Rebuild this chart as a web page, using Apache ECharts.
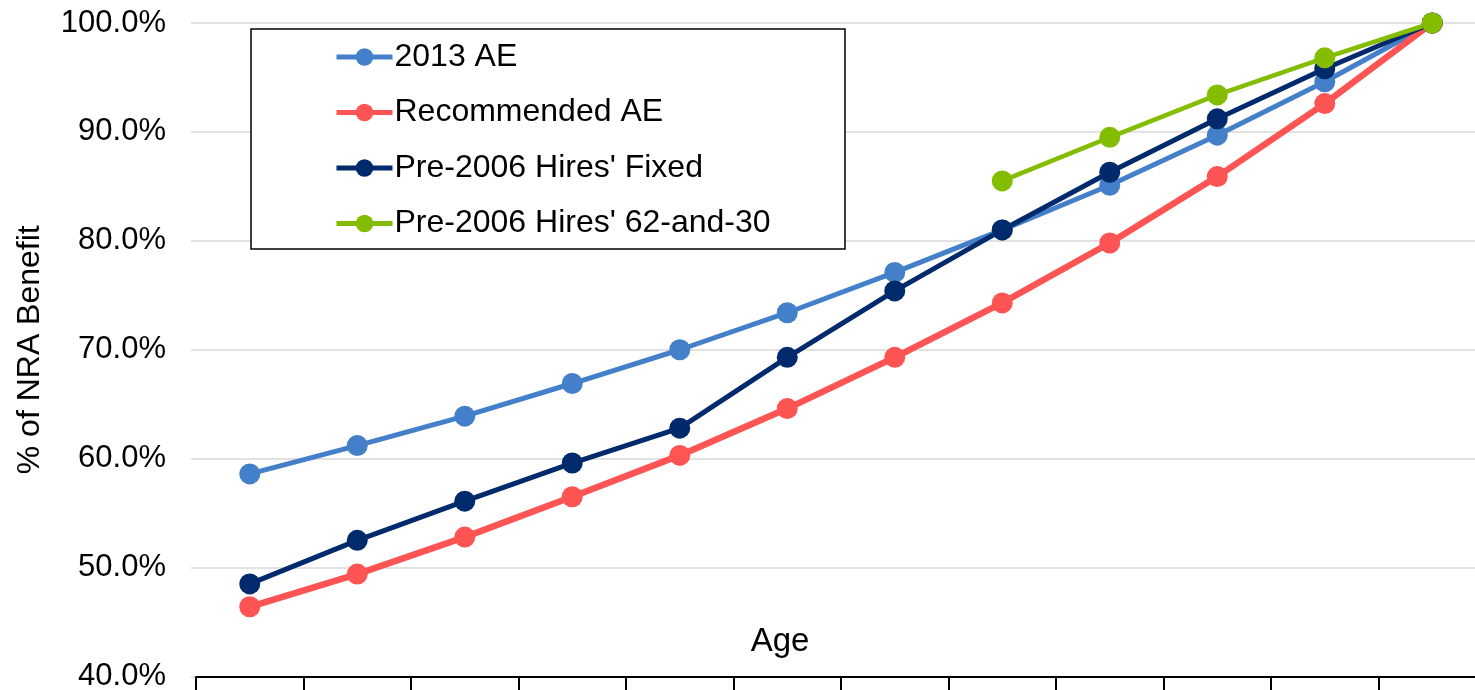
<!DOCTYPE html>
<html>
<head>
<meta charset="utf-8">
<script src="https://cdn.jsdelivr.net/npm/echarts@6/dist/echarts.min.js"></script>
<style>
  html, body { margin: 0; padding: 0; background: #fff; }
  #chart { width: 1475px; height: 690px; }
</style>
</head>
<body>
<div id="chart"></div>
<script>
// Age at which the benefit starts (axis labels fall below the visible frame)
const ages = ['54', '55', '56', '57', '58', '59', '60', '61', '62', '63', '64', '65'];

// Early-retirement benefit as % of the normal-retirement-age benefit
const ae2013        = [58.6, 61.2, 63.9, 66.9, 70.0, 73.4, 77.1, 81.0, 85.1, 89.7, 94.6, 100.0];
const recommendedAE = [46.4, 49.4, 52.8, 56.5, 60.3, 64.6, 69.3, 74.3, 79.8, 85.9, 92.6, 100.0];
const pre2006Fixed  = [48.5, 52.5, 56.1, 59.6, 62.8, 69.3, 75.4, 81.0, 86.3, 91.2, 95.8, 100.0];
const pre2006_62_30 = [null, null, null, null, null, null, null, 85.5, 89.5, 93.4, 96.8, 100.0];

const seriesNames = ['2013 AE', 'Recommended AE', "Pre-2006 Hires' Fixed", "Pre-2006 Hires' 62-and-30"];
const yTicks = { min: 40, max: 100, step: 10 };

const FONT = '"Liberation Sans", Arial, Helvetica, sans-serif';

function lineSeries(name, data, color, width) {
  return {
    name: name,
    type: 'line',
    data: data,
    symbol: 'circle',
    symbolSize: 21,
    connectNulls: false,
    itemStyle: { color: color },
    lineStyle: { color: color, width: width },
    emphasis: { disabled: true },
    animation: false
  };
}

const chart = echarts.init(document.getElementById('chart'), null, { renderer: 'canvas' });

chart.setOption({
  backgroundColor: '#ffffff',
  animation: false,
  grid: {
    left: 196, width: 1290, top: 23, bottom: 13.5,
    containLabel: false, outerBoundsMode: 'none'
  },
  xAxis: {
    type: 'category',
    data: ages,
    boundaryGap: true,
    axisLine: { show: true, lineStyle: { color: '#000', width: 2 } },
    axisTick: { show: true, length: 16, lineStyle: { color: '#000', width: 2 } },
    axisLabel: { show: false },
    splitLine: { show: false }
  },
  yAxis: {
    type: 'value',
    min: yTicks.min,
    max: yTicks.max,
    interval: yTicks.step,
    name: '% of NRA Benefit',
    nameLocation: 'middle',
    nameGap: 150,
    nameRotate: 90,
    nameTextStyle: { color: '#000', fontSize: 32, fontFamily: FONT },
    axisLine: { show: false },
    axisTick: { show: true, length: 5, lineStyle: { color: '#d9d9d9', width: 1.5 } },
    axisLabel: {
      color: '#000', fontSize: 31, fontFamily: FONT, margin: 30,
      formatter: v => v.toFixed(1) + '%'
    },
    splitLine: { show: true, lineStyle: { color: '#d9d9d9', width: 1.5 } }
  },
  legend: {
    orient: 'vertical',
    left: 334,
    top: 41,
    padding: 0,
    itemWidth: 56,
    itemHeight: 22,
    itemGap: 23.5,
    selectedMode: false,
    lineStyle: { width: 5 },
    textStyle: { color: '#000', fontSize: 32, fontFamily: FONT, lineHeight: 32, padding: [0, 0, 0, -3] },
    data: seriesNames
  },
  graphic: [
    {
      type: 'rect',
      z: 3,
      shape: { x: 251, y: 29, width: 594, height: 220 },
      style: { fill: '#fff', stroke: '#000', lineWidth: 1.5 }
    },
    {
      type: 'text',
      z: 3,
      x: 780,
      y: 642,
      style: {
        text: 'Age', fill: '#000', fontSize: 33, fontFamily: FONT,
        align: 'center', verticalAlign: 'middle'
      }
    }
  ],
  series: [
    lineSeries(seriesNames[0], ae2013, '#4480C9', 5),
    lineSeries(seriesNames[1], recommendedAE, '#FF5454', 6.5),
    lineSeries(seriesNames[2], pre2006Fixed, '#012A6C', 5),
    lineSeries(seriesNames[3], pre2006_62_30, '#84BC00', 4.5)
  ]
});
</script>
</body>
</html>
